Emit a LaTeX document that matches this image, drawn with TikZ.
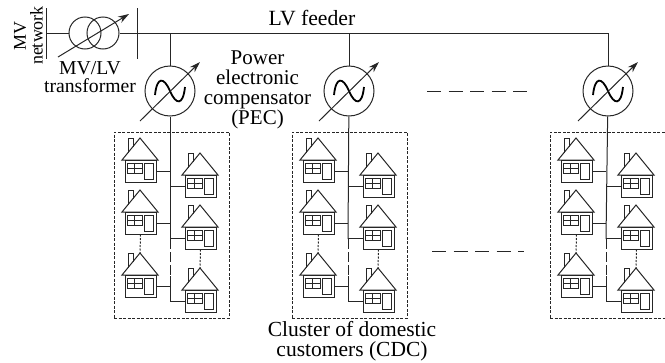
\documentclass[tikz,border=0pt]{standalone}
\usepackage{fontspec}
\setmainfont{Liberation Serif}
\usetikzlibrary{positioning,arrows.meta}

\tikzset{
  wire/.style={line width=1pt, draw=black!85},
  arrowline/.style={line width=1pt, draw=black!85, -{Stealth[length=11pt,width=7pt]}},
  pec/.style={draw=black!85, line width=1pt, circle, minimum size=50pt, inner sep=0pt},
  winding/.style={draw=black!85, line width=1pt, circle, minimum size=32pt, inner sep=0pt},
  cluster/.style={draw=black!85, line width=0.9pt, dash pattern=on 3pt off 1.5pt, rectangle, minimum width=115pt, minimum height=186pt, inner sep=0pt},
  label/.style={align=center, font=\fontsize{21}{19.8}\selectfont, inner sep=0pt},
  gapline/.style={wire, dash pattern=on 14pt off 7.5pt},
  pics/house/.style={code={
    \coordinate (-apex) at (0,0);
    \node[draw=black!85, line width=1pt, minimum width=31pt, minimum height=22pt, inner sep=0pt] (-body) at (0.5,33) {};
    \draw[wire] (-18,22) -- (0,0) -- (18,22) -- cycle;
    \draw[wire] (-12,15) -- (-12,0) -- (-7,0) -- (-7,8.6);
    \draw[wire] (-13,25) rectangle (2,35);
    \draw[wire] (-5.5,25) -- (-5.5,35) (-13,30) -- (2,30);
    \draw[wire] (4,25) rectangle (13,41);
  }},
  pics/sine/.style={code={
    \draw[line width=1.8pt] (-15,4) .. controls (-13,-15) and (-6,-14) .. (0,0) .. controls (6,14) and (13,15) .. (15,-4);
  }}
}

\begin{document}
\begin{tikzpicture}[x=1pt, y=-1pt]
  \useasboundingbox (0,0) rectangle (665,362);

  % supply side
  \coordinate (mvtop) at (46,8);
  \coordinate (mvbot) at (46,59);
  \coordinate (mvmid) at (46,33);
  \coordinate (lvtop) at (137,8);
  \coordinate (lvbot) at (137,59);
  \node[winding] (tr1) at (85,33) {};
  \node[winding] (tr2) at (103,33) {};
  \draw[wire] (mvtop) -- (mvbot);
  \draw[wire] (lvtop) -- (lvbot);
  \draw[wire] (mvmid) -- (tr1);
  \draw[arrowline] ([shift={(-27,24)}]tr1.center) -- ([shift={(26,-19)}]tr2.center);

  \node[pec] (pec1) at (170,91) {};
  \node[pec, right=128pt of pec1] (pec2) {};
  \node[pec, right=208pt of pec2] (pec3) {};
  \coordinate (tap1) at (pec1 |- mvmid);
  \coordinate (tap2) at (pec2 |- mvmid);
  \coordinate (tap3) at (pec3 |- mvmid);
  \draw[wire] (tr2.east) -- (tap3) -- (pec3);
  \draw[wire] (tap1) -- (pec1);
  \draw[wire] (tap2) -- (pec2);

  % one cluster per compensator
  \foreach \c/\dx in {1/0,2/178,3/436} {
    \pic at (pec\c.center) {sine};
    \draw[arrowline] ([shift={(-30,30)}]pec\c.center) -- ([shift={(30,-29)}]pec\c.center);
    \begin{scope}[xshift=\dx pt]
      \node[cluster] (box\c) at (171.5,225) {};
      \pic (ha\c) at (140,138) {house};
      \pic (hb\c) at (140,190) {house};
      \pic (hc\c) at (140,253) {house};
      \pic (hd\c) at (200,153) {house};
      \pic (he\c) at (200,205) {house};
      \pic (hf\c) at (200,268) {house};
      \coordinate (busa\c) at (170,239);
      \coordinate (busb\c) at (170,276);
      \coordinate (busc\c) at (170,301);
    \end{scope}
    \draw[wire] (pec\c) -- (busa\c);
    \draw[wire, dash pattern=on 10pt off 3pt] (busa\c) -- (busb\c);
    \draw[wire] (busb\c) -- (busc\c);
    \foreach \h in {a,b,c} \draw[wire] (h\h\c-body.east) -- (h\h\c-body.east -| busa\c);
    \foreach \h in {d,e,f} \draw[wire] (h\h\c-body.west) -- (h\h\c-body.west -| busa\c);
    \draw[wire, dash pattern=on 2pt off 1.5pt] (hb\c-body.south) -- (hc\c-apex);
    \draw[wire, dash pattern=on 2pt off 1.5pt] (he\c-body.south) -- (hf\c-apex);
  }

  % gaps between clusters
  \coordinate (gapa) at (427,91);
  \coordinate (gapb) at (528,91);
  \coordinate (gapc) at (432,251);
  \coordinate (gapd) at (524,251);
  \draw[gapline] (gapa) -- (gapb);
  \draw[gapline] (gapc) -- (gapd);

  % labels
  \node[label, rotate=90, font=\fontsize{18}{18}\selectfont] (mvlabel) at (20,36) {MV};
  \node[label, rotate=90, font=\fontsize{18}{18}\selectfont] (netlabel) at (36.5,35.5) {network};
  \node[label, font=\fontsize{19.7}{18.5}\selectfont] (trlabel) at (90,77) {MV/LV\\transformer};
  \node[label, font=\fontsize{21.7}{20}\selectfont] (feederlabel) at (312,18.5) {LV feeder};
  \node[label] (peclabel) at (257.5,90) {Power\\electronic\\compensator\\(PEC)};
  \node[label, font=\fontsize{21.5}{20}\selectfont] (cdclabel) at (352,341) {Cluster of domestic\\customers (CDC)};
\end{tikzpicture}
\end{document}
